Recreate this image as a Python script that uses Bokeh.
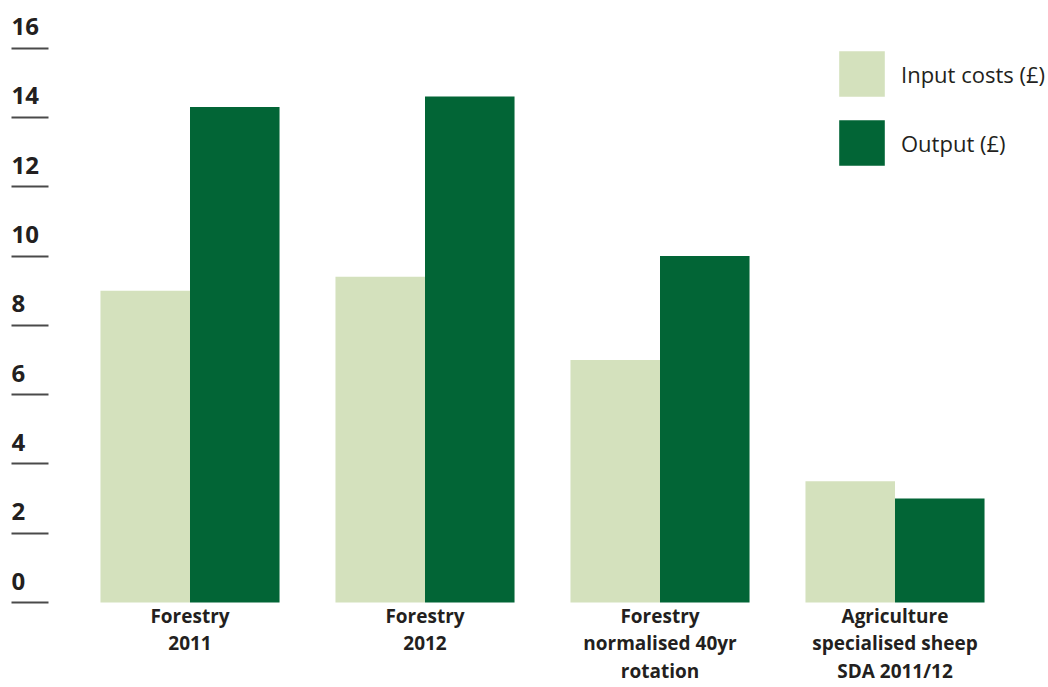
from bokeh.plotting import figure
from bokeh.models import (Range1d, FixedTicker, ColumnDataSource, LabelSet,
                          Legend, LegendItem)
from bokeh.transform import dodge
from bokeh.embed import file_html
from bokeh.resources import INLINE
from bokeh.core.properties import value

# ---------------- data ----------------
categories = [
    "Forestry\n2011",
    "Forestry\n2012",
    "Forestry\nnormalised 40yr\nrotation",
    "Agriculture\nspecialised sheep\nSDA 2011/12",
]
input_costs = [9.0, 9.4, 7.0, 3.5]
output = [14.3, 14.6, 10.0, 3.0]
y_ticks = [0, 2, 4, 6, 8, 10, 12, 14, 16]
series_names = ["Input costs (£)", "Output (£)"]

# ---------------- style ----------------
LIGHT = "#d4e1bd"
DARK = "#026536"
TEXT = "#231f20"
TICK = "#4a4a4a"
FONT = "Open Sans"

positions = list(range(len(categories)))
src = ColumnDataSource(dict(x=positions, input=input_costs, output=output))

p = figure(width=1048, height=687, output_backend="svg", toolbar_location=None,
           x_range=Range1d(-0.7596, 3.6532), y_range=Range1d(-0.2886, 17.374),
           min_border_left=11, min_border_right=0, min_border_top=0,
           min_border_bottom=75)
p.outline_line_color = None
p.xgrid.visible = False
p.ygrid.visible = False
p.background_fill_color = "white"
p.border_fill_color = "white"

# x axis: category labels
xa = p.xaxis[0]
xa.ticker = FixedTicker(ticks=positions)
xa.major_label_overrides = {i: c for i, c in zip(positions, categories)}
xa.axis_line_color = None
xa.major_tick_line_color = None
xa.minor_tick_line_color = None
xa.major_label_text_font = FONT
xa.major_label_text_font_style = "bold"
xa.major_label_text_font_size = "19px"
xa.major_label_text_color = TEXT
xa.major_label_text_line_height = 1.06
xa.major_label_standoff = -16

# y axis: short tick lines drawn inward, labels sit above the lines
ya = p.yaxis[0]
ya.ticker = FixedTicker(ticks=y_ticks)
ya.major_label_overrides = {t: "" for t in y_ticks}
ya.major_label_text_color = None
ya.major_label_standoff = 0
ya.axis_line_color = None
ya.minor_tick_line_color = None
ya.major_tick_in = 37
ya.major_tick_out = 0
ya.major_tick_line_width = 2
ya.major_tick_line_color = TICK

tick_src = ColumnDataSource(dict(y=y_ticks, text=[str(t) for t in y_ticks]))
ylabels = LabelSet(x=0, y="y", text="text", x_units="screen", y_units="data",
                   y_offset=13, source=tick_src,
                   text_font=value(FONT), text_font_style="bold",
                   text_font_size="24px", text_color=TEXT,
                   text_align="left", text_baseline="alphabetic")
p.add_layout(ylabels)

# bars
r_in = p.vbar(x=dodge("x", -0.1905, range=p.x_range), top="input", width=0.381,
              source=src, fill_color=LIGHT, line_color=None)
r_out = p.vbar(x=dodge("x", 0.1905, range=p.x_range), top="output", width=0.381,
               source=src, fill_color=DARK, line_color=None)

legend = Legend(items=[LegendItem(label=series_names[0], renderers=[r_in]),
                       LegendItem(label=series_names[1], renderers=[r_out])],
                location=(822, 441), orientation="vertical",
                glyph_width=57, glyph_height=57, spacing=12, label_standoff=11,
                padding=0, margin=0, border_line_color=None,
                background_fill_alpha=0,
                label_text_font=FONT, label_text_font_size="22px",
                label_text_color=TEXT)
p.add_layout(legend)

open("out.html", "w").write(file_html(p, INLINE))
